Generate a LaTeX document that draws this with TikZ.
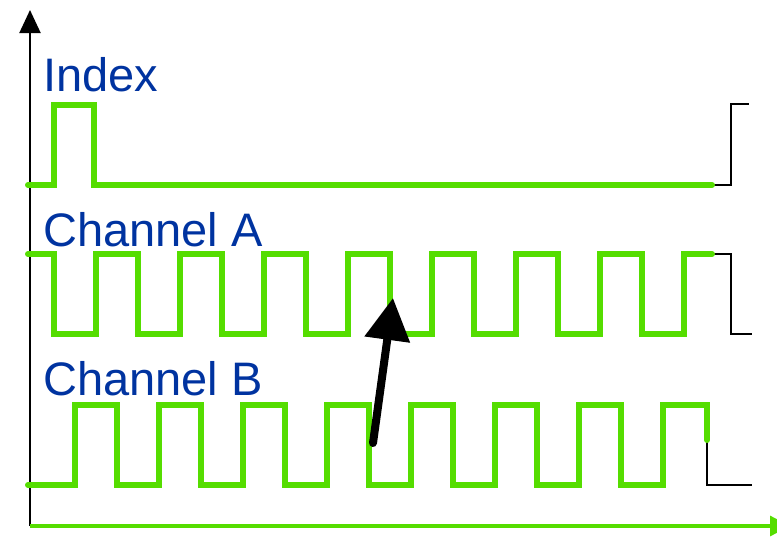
\documentclass[tikz,border=0pt]{standalone}
\usepackage{fontspec}
\setmainfont{Liberation Sans}
\usetikzlibrary{arrows.meta}
\definecolor{sig}{RGB}{85,221,0}
\definecolor{lblue}{RGB}{0,51,160}
\tikzset{
  wave/.style  ={line width=3pt, sig, line cap=round, line join=miter},
  tail/.style  ={line width=1pt, black},
  yaxis/.style ={-{Triangle[length=11.5pt, width=10.5pt]}, line width=1pt},
  xaxis/.style ={-{Triangle[length=10pt, width=10pt]}, line width=1.6pt, sig},
  readarr/.style={-{Triangle[length=21pt, width=22pt]}, line width=4pt,
                 line cap=round},
  chlbl/.style ={anchor=base west, inner sep=0pt, text=lblue,
                 font=\fontsize{23.5}{26}\selectfont},
}
\begin{document}
\begin{tikzpicture}[x=0.5pt, y=-0.5pt]
  \useasboundingbox (0,0) rectangle (777,538);
  \clip (0,0) rectangle (777,538);
  % axes
  \coordinate (org) at (30,526);
  \coordinate (ytop) at (30,10);
  \coordinate (xend) at (790,526);
  \draw[yaxis] (org) -- (ytop);
  \draw[xaxis] (org) -- (xend);
  % labels
  \node[chlbl] (lidx) at (43,91) {Index};
  \node[chlbl] (lcha) at (43,246) {Channel A};
  \node[chlbl] (lchb) at (43,395) {Channel B};
  % index pulse
  \draw[tail] (712,185) -- (731,185) -- (731,104) -- (749,104);
  \draw[wave] (28,185) -- (54,185) -- (54,105) -- (94,105) -- (94,185)
    -- (712,185);
  % channel A
  \draw[tail] (712,254) -- (731,254) -- (731,334) -- (752,334);
  \draw[wave] (28,254)
    \foreach \k in {0,...,7}{
      -- ({54+84*\k},254) -- ({54+84*\k},334)
      -- ({96+84*\k},334) -- ({96+84*\k},254)}
    -- (712,254);
  % channel B
  \draw[tail] (707,440) -- (707,485) -- (752,485);
  \draw[wave] (28,485)
    \foreach \k in {0,...,6}{
      -- ({75+84*\k},485) -- ({75+84*\k},405)
      -- ({117+84*\k},405) -- ({117+84*\k},485)}
    -- (663,485) -- (663,405) -- (707,405) -- (707,440);
  % read position
  \coordinate (mtail) at (373,443);
  \coordinate (mtip) at (393,298);
  \draw[readarr] (mtail) -- (mtip);
\end{tikzpicture}
\end{document}
